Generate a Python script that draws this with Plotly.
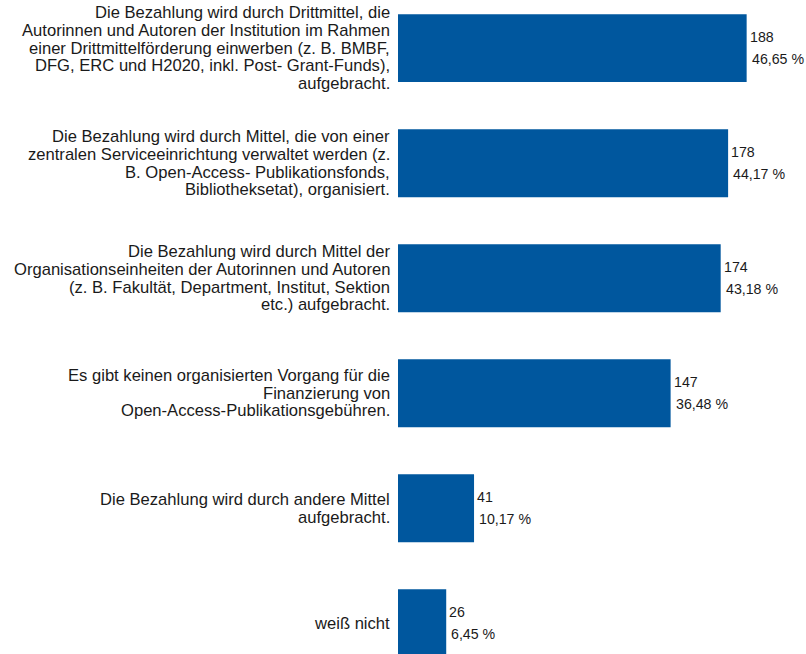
import plotly.graph_objects as go

categories = [
    "Die Bezahlung wird durch Drittmittel, die<br>Autorinnen und Autoren der Institution im Rahmen<br>einer Drittmittelförderung einwerben (z. B. BMBF,<br>DFG, ERC und H2020, inkl. Post- Grant-Funds),<br>aufgebracht.",
    "Die Bezahlung wird durch Mittel, die von einer<br>zentralen Serviceeinrichtung verwaltet werden (z.<br>B. Open-Access- Publikationsfonds,<br>Bibliotheksetat), organisiert.",
    "Die Bezahlung wird durch Mittel der<br>Organisationseinheiten der Autorinnen und Autoren<br>(z. B. Fakultät, Department, Institut, Sektion<br>etc.) aufgebracht.",
    "Es gibt keinen organisierten Vorgang für die<br>Finanzierung von<br>Open-Access-Publikationsgebühren.",
    "Die Bezahlung wird durch andere Mittel<br>aufgebracht.",
    "weiß nicht",
]
counts = [188, 178, 174, 147, 41, 26]
percents = ["46,65 %", "44,17 %", "43,18 %", "36,48 %", "10,17 %", "6,45 %"]

BAR_COLOR = "#00579e"
FONT = "Liberation Sans, Arial, sans-serif"
TEXT_COLOR = "#1a1a1a"
LINE_H = 17.6

fig = go.Figure(go.Bar(
    x=counts,
    y=categories,
    orientation="h",
    marker=dict(color=BAR_COLOR, line=dict(width=0)),
    width=0.59,
    hoverinfo="skip",
))

annotations = []
for c, cat, p in zip(counts, categories, percents):
    lines = cat.split("<br>")
    n = len(lines)
    for i, ln in enumerate(lines):
        annotations.append(dict(x=0, y=cat, xref="x", yref="y", text=ln,
                                showarrow=False, xanchor="right", yanchor="middle",
                                xshift=-6, yshift=((n - 1) / 2 - i) * LINE_H,
                                font=dict(family=FONT, size=16.6, color=TEXT_COLOR)))
    annotations.append(dict(x=c, y=cat, xref="x", yref="y", text=str(c),
                            showarrow=False, xanchor="left", yanchor="middle",
                            xshift=1, yshift=11,
                            font=dict(family=FONT, size=14.2, color=TEXT_COLOR)))
    annotations.append(dict(x=c, y=cat, xref="x", yref="y", text=p,
                            showarrow=False, xanchor="left", yanchor="middle",
                            xshift=3, yshift=-11,
                            font=dict(family=FONT, size=14.2, color=TEXT_COLOR)))

fig.update_layout(
    width=806, height=654,
    margin=dict(l=398, r=0, t=0, b=0),
    paper_bgcolor="white", plot_bgcolor="white",
    showlegend=False,
    font=dict(family=FONT, color=TEXT_COLOR),
    xaxis=dict(range=[0, 220], showgrid=False, zeroline=False, showticklabels=False,
               showline=False, ticks=""),
    yaxis=dict(type="category", range=[5.267, -0.419], showgrid=False, zeroline=False,
               showline=False, ticks="", showticklabels=False),
    annotations=annotations,
)

fig.write_html("out.html", config={"displayModeBar": False},
               post_script="document.body.style.margin='0';document.body.style.overflow='hidden';")
